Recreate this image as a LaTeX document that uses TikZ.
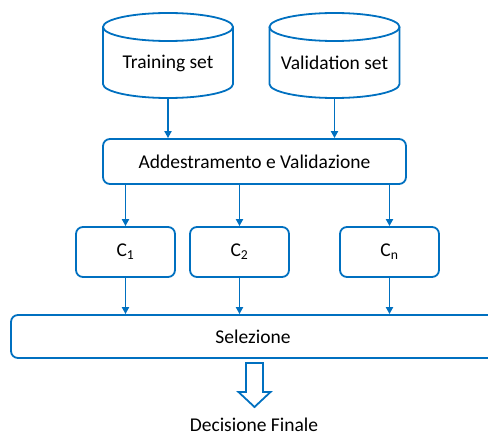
\documentclass[tikz,border=0pt]{standalone}
\usepackage{fontspec}
\setmainfont{Carlito}
\usetikzlibrary{arrows.meta,calc}
\definecolor{oblue}{RGB}{0,112,192}
\tikzset{
  box/.style={draw=oblue,line width=1.8pt,rounded corners=7pt,align=center,inner sep=0pt},
  dbline/.style={draw=oblue,line width=1.8pt},
  arr/.style={draw=oblue,line width=1.8pt,-{Triangle[length=7pt,width=7pt]}},
  lbl/.style={font=\fontsize{19.5}{22}\selectfont}
}
\begin{document}
\begin{tikzpicture}[x=1pt,y=-1pt,every node/.style={lbl}]
\useasboundingbox (0,0) rectangle (488,436);
\clip (0,0) rectangle (488,436);
% cylinders
\draw[dbline] (103,27) -- (103,84) arc[start angle=180,end angle=0,x radius=65,y radius=14] -- (233,27);
\draw[dbline] (168,27) ellipse[x radius=65,y radius=14];
\draw[dbline] (269.5,27) -- (269.5,84) arc[start angle=180,end angle=0,x radius=65,y radius=14] -- (399.5,27);
\draw[dbline] (334.5,27) ellipse[x radius=65,y radius=14];
\node (ts) at (168,63) {Training set};
\node (vs) at (334.5,63) {Validation set};
\coordinate (tsb) at (168,98);
\coordinate (vsb) at (334.5,98);
\node[box,minimum width=303pt,minimum height=45pt] (add) at (254.5,161.5) {Addestramento e Validazione};
\node[box,minimum width=99pt,minimum height=50pt] (c1) at (125.5,252) {C\textsubscript{1}};
\node[box,minimum width=99pt,minimum height=50pt] (c2) at (239.5,252) {C\textsubscript{2}};
\node[box,minimum width=99pt,minimum height=50pt] (cn) at (389.5,252) {C\textsubscript{n}};
\node[box,minimum width=484pt,minimum height=43pt] (sel) at (253,336.5) {Selezione};
\node[inner sep=1pt] (dec) at (254,424.5) {Decisione Finale};
\draw[arr] (tsb) -- (tsb |- add.north);
\draw[arr] (vsb) -- (vsb |- add.north);
\draw[arr] (add.south -| c1.north) -- (c1.north);
\draw[arr] (add.south -| c2.north) -- (c2.north);
\draw[arr] (add.south -| cn.north) -- (cn.north);
\draw[arr] (c1.south) -- (c1.south |- sel.north);
\draw[arr] (c2.south) -- (c2.south |- sel.north);
\draw[arr] (cn.south) -- (cn.south |- sel.north);
\coordinate (ba) at (254.5,363);
\draw[oblue,line width=1.8pt,line join=miter]
  ($(ba)+(-8.5,0)$) -- ($(ba)+(8.5,0)$) -- ($(ba)+(8.5,29)$) -- ($(ba)+(16,29)$)
  -- ($(ba)+(0,44)$) -- ($(ba)+(-16,29)$) -- ($(ba)+(-8.5,29)$) -- cycle;
\end{tikzpicture}
\end{document}
